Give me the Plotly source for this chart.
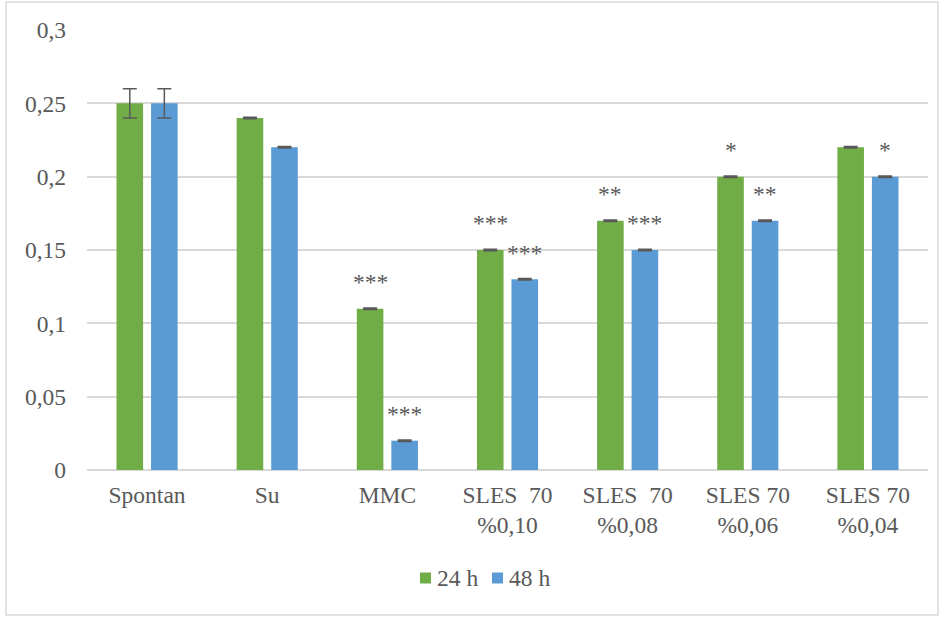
import plotly.graph_objects as go

categories = ["Spontan", "Su", "MMC", "SLES  70<br>%0,10", "SLES  70<br>%0,08",
              "SLES 70<br>%0,06", "SLES 70<br>%0,04"]
series_names = ["24 h", "48 h"]
values_24h = [0.25, 0.24, 0.11, 0.15, 0.17, 0.20, 0.22]
values_48h = [0.25, 0.22, 0.02, 0.13, 0.15, 0.17, 0.20]
err_24h = [0.01, 0.0005, 0.0005, 0.0005, 0.0005, 0.0005, 0.0005]
err_48h = [0.01, 0.0005, 0.0005, 0.0005, 0.0005, 0.0005, 0.0005]
stars_24h = ["", "", "***", "***", "**", "*", ""]
stars_48h = ["", "", "***", "***", "***", "**", "*"]
y_ticks = [0, 0.05, 0.1, 0.15, 0.2, 0.25, 0.3]
y_tick_labels = ["0", "0,05", "0,1", "0,15", "0,2", "0,25", "0,3"]

GREEN = "#70AD47"
BLUE = "#5B9BD5"
TEXT = "#595959"
GRID = "#D9D9D9"
FONT = "Liberation Serif"
FS = 23.5

W, H = 945, 617
M_L, M_R, M_T, M_B = 87, 17, 30, 147
BARGAP, GROUPGAP = 0.425, 0.23
plot_w = W - M_L - M_R
plot_h = H - M_T - M_B


def px_x(px):
    return (px - M_L) / plot_w


def px_y(py):
    return (H - M_B - py) / plot_h


fig = go.Figure()
fig.add_bar(name=series_names[0], x=categories, y=values_24h, marker_color=GREEN,
            marker_line_width=0,
            error_y=dict(type="data", array=err_24h, color=TEXT,
                         thickness=1.5, width=7))
fig.add_bar(name=series_names[1], x=categories, y=values_48h, marker_color=BLUE,
            marker_line_width=0,
            error_y=dict(type="data", array=err_48h, color=TEXT,
                         thickness=1.5, width=7))

# significance marks above each bar, shifted onto its own bar of the group
cat_px = plot_w / len(categories)
offset_px = cat_px * (1 - BARGAP) / 4
for cat, v, e, s in zip(categories, values_24h, err_24h, stars_24h):
    if s:
        fig.add_annotation(x=cat, y=v + e, text=s, showarrow=False,
                           xshift=-offset_px, yshift=11, yanchor="bottom",
                           font=dict(family=FONT, size=FS, color=TEXT))
for cat, v, e, s in zip(categories, values_48h, err_48h, stars_48h):
    if s:
        fig.add_annotation(x=cat, y=v + e, text=s, showarrow=False,
                           xshift=offset_px, yshift=11, yanchor="bottom",
                           font=dict(family=FONT, size=FS, color=TEXT))

# legend: small square swatch followed closely by the series name
legend_y = 578
for name, color, sq_left in zip(series_names, [GREEN, BLUE], [420, 492]):
    fig.add_shape(type="rect", xref="paper", yref="paper",
                  x0=px_x(sq_left), x1=px_x(sq_left + 11),
                  y0=px_y(legend_y + 5.5), y1=px_y(legend_y - 5.5),
                  fillcolor=color, line_width=0)
    fig.add_annotation(xref="paper", yref="paper", x=px_x(sq_left + 15),
                       y=px_y(legend_y), text=name, showarrow=False,
                       xanchor="left", yanchor="middle",
                       font=dict(family=FONT, size=FS, color=TEXT))

# outer chart frame
fig.add_shape(type="rect", xref="paper", yref="paper",
              x0=px_x(6), x1=px_x(938), y0=px_y(615), y1=px_y(2),
              line=dict(color=GRID, width=1.5), layer="below")

fig.update_layout(
    width=W, height=H,
    margin=dict(l=M_L, r=M_R, t=M_T, b=M_B),
    paper_bgcolor="white", plot_bgcolor="white",
    barmode="group", bargap=BARGAP, bargroupgap=GROUPGAP,
    font=dict(family=FONT, size=FS, color=TEXT),
    showlegend=False,
)
fig.update_xaxes(showgrid=False, showline=False, zeroline=False,
                 tickfont=dict(family=FONT, size=FS, color=TEXT),
                 ticks="", ticklabelstandoff=8)
fig.update_yaxes(range=[0, 0.3], tickvals=y_ticks, ticktext=y_tick_labels,
                 showgrid=True, gridcolor=GRID, gridwidth=1.5,
                 zeroline=True, zerolinecolor=GRID, zerolinewidth=1.5,
                 showline=False, ticks="", ticklabelstandoff=20,
                 tickfont=dict(family=FONT, size=FS, color=TEXT))

fig.write_html("out.html")
